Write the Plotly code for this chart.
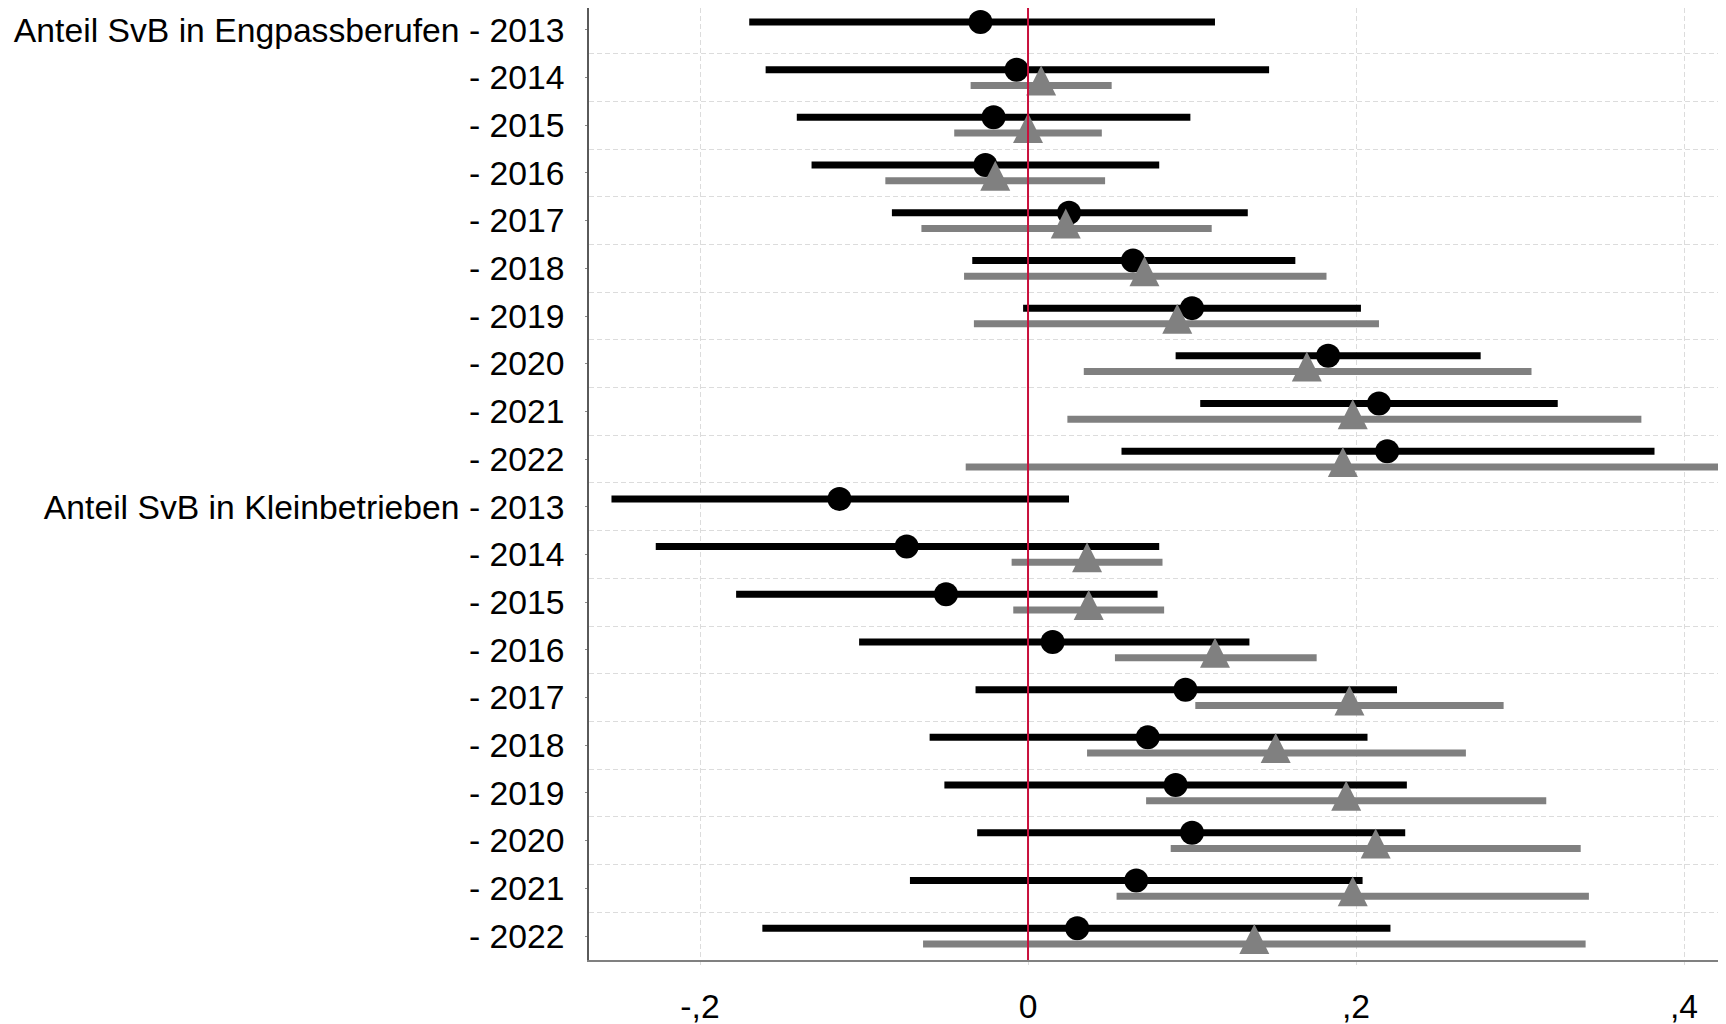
import numpy as np
import plotly.graph_objects as go

years = ["2013", "2014", "2015", "2016", "2017", "2018", "2019", "2020", "2021", "2022"]
groups = ["Anteil SvB in Engpassberufen", "Anteil SvB in Kleinbetrieben"]

# Engpassberufen: black (circle) and gray (triangle) estimates with CI
eng_b_pt = [-0.029, -0.007, -0.021, -0.026, 0.025, 0.064, 0.100, 0.183, 0.214, 0.219]
eng_b_lo = [-0.170, -0.160, -0.141, -0.132, -0.083, -0.034, -0.003, 0.090, 0.105, 0.057]
eng_b_hi = [0.114, 0.147, 0.099, 0.080, 0.134, 0.163, 0.203, 0.276, 0.323, 0.382]
eng_g_pt = [None, 0.008, 0.000, -0.020, 0.023, 0.071, 0.091, 0.170, 0.198, 0.192]
eng_g_lo = [None, -0.035, -0.045, -0.087, -0.065, -0.039, -0.033, 0.034, 0.024, -0.038]
eng_g_hi = [None, 0.051, 0.045, 0.047, 0.112, 0.182, 0.214, 0.307, 0.374, 0.422]

# Kleinbetrieben
kl_b_pt = [-0.115, -0.074, -0.050, 0.015, 0.096, 0.073, 0.090, 0.100, 0.066, 0.030]
kl_b_lo = [-0.254, -0.227, -0.178, -0.103, -0.032, -0.060, -0.051, -0.031, -0.072, -0.162]
kl_b_hi = [0.025, 0.080, 0.079, 0.135, 0.225, 0.207, 0.231, 0.230, 0.204, 0.221]
kl_g_pt = [None, 0.036, 0.037, 0.114, 0.196, 0.151, 0.194, 0.212, 0.198, 0.138]
kl_g_lo = [None, -0.010, -0.009, 0.053, 0.102, 0.036, 0.072, 0.087, 0.054, -0.064]
kl_g_hi = [None, 0.082, 0.083, 0.176, 0.290, 0.267, 0.316, 0.337, 0.342, 0.340]

x_tickvals = [-0.2, 0, 0.2, 0.4]
x_ticktext = ["-,2", "0", ",2", ",4"]

# ---- build rows ----
labels = []
for g in groups:
    for j, y in enumerate(years):
        labels.append(f"{g} - {y}" if j == 0 else f"- {y}")

b_pt = eng_b_pt + kl_b_pt
b_lo = eng_b_lo + kl_b_lo
b_hi = eng_b_hi + kl_b_hi
g_pt = eng_g_pt + kl_g_pt
g_lo = eng_g_lo + kl_g_lo
g_hi = eng_g_hi + kl_g_hi

n = len(labels)
pos = np.arange(1, n + 1)
off = 0.165
yb = pos - off
yg = pos + off


def segs(lo, hi, yy):
    xs, ys = [], []
    for a, b, c in zip(lo, hi, yy):
        if a is None:
            continue
        xs += [a, b, None]
        ys += [c, c, None]
    return xs, ys


FONT = "Liberation Sans, Arial, sans-serif"
BLACK = "#000000"
GRAY = "#808080"
GRID = "#dcdcdc"

fig = go.Figure()

xs, ys = segs(b_lo, b_hi, yb)
fig.add_trace(go.Scatter(x=xs, y=ys, mode="lines", line=dict(color=BLACK, width=7),
                         hoverinfo="skip", showlegend=False))
fig.add_trace(go.Scatter(x=b_pt, y=yb, mode="markers",
                         marker=dict(symbol="circle", size=24, color=BLACK, line=dict(width=0)),
                         showlegend=False))

xs, ys = segs(g_lo, g_hi, yg)
fig.add_trace(go.Scatter(x=xs, y=ys, mode="lines", line=dict(color=GRAY, width=7),
                         hoverinfo="skip", showlegend=False))
gx = [v for v in g_pt if v is not None]
gy = [yy for v, yy in zip(g_pt, yg) if v is not None]
fig.add_trace(go.Scatter(x=gx, y=gy, mode="markers",
                         marker=dict(symbol="arrow-down", size=30, angle=180, standoff=20,
                                     color=GRAY, line=dict(width=0)),
                         showlegend=False))

# red reference line at zero
fig.add_shape(type="line", xref="x", yref="paper", x0=0, x1=0, y0=0, y1=1,
              line=dict(color="#C8103C", width=2), layer="above")

# page body has an 8px default margin: size the figure to fill the window exactly
fig.update_layout(
    template="none",
    width=1718, height=1016,
    margin=dict(l=581, r=0, t=0, b=64, autoexpand=False),
    paper_bgcolor="white", plot_bgcolor="white",
    font=dict(family=FONT, size=33.7, color="black"),
    showlegend=False,
)

fig.update_xaxes(
    automargin=False,
    range=[-0.2677, 0.4256],
    tickvals=x_tickvals, ticktext=x_ticktext,
    showgrid=True, gridcolor=GRID, gridwidth=1, griddash="5px,3px",
    zeroline=False,
    showline=True, linecolor="#808080", linewidth=1.7,
    ticks="outside", ticklen=3, tickwidth=1, tickcolor=GRID,
    ticklabelstandoff=13,
    tickfont=dict(family=FONT, size=33.7, color="black"),
)

fig.update_yaxes(
    automargin=False,
    range=[20.503, 0.542],
    tickvals=list(pos), ticktext=labels,
    showgrid=False, zeroline=False,
    minor=dict(tickvals=list(np.arange(1.5, n, 1.0)), showgrid=True,
               gridcolor=GRID, gridwidth=1, griddash="5px,3px", ticks=""),
    showline=True, linecolor="#5a5a5a", linewidth=1.6,
    ticks="outside", ticklen=2, tickwidth=1.2, tickcolor="#8a8a8a",
    ticklabelstandoff=14,
    tickfont=dict(family=FONT, size=33.7, color="black"),
)

fig.write_html("out.html")
